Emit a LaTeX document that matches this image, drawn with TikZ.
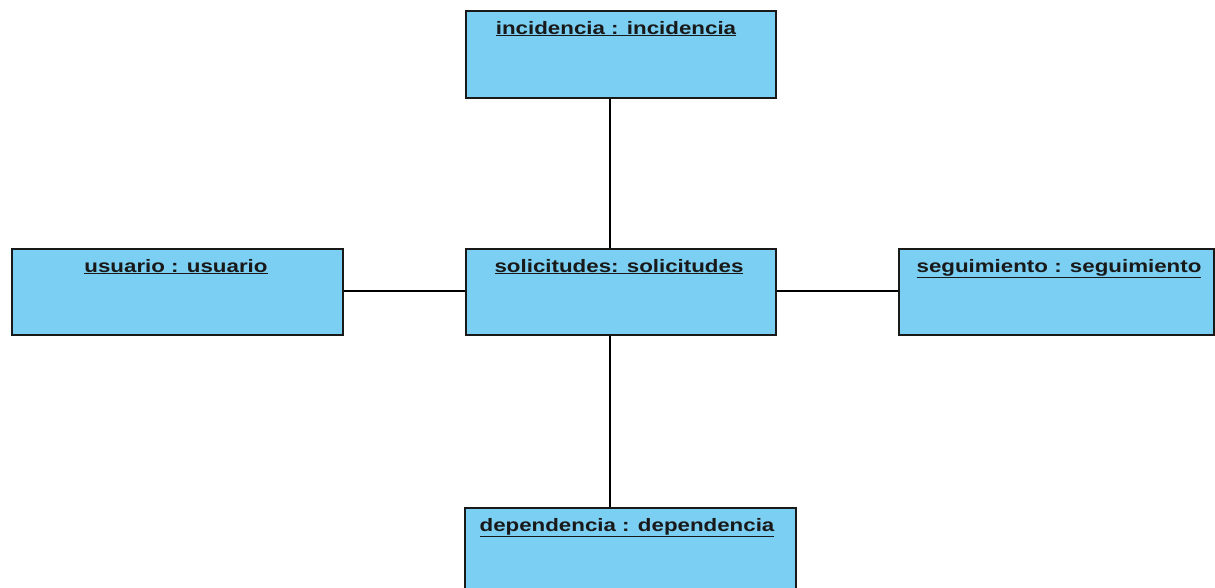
\documentclass[tikz,border=0pt]{standalone}
\usepackage{fontspec}
\setmainfont{Liberation Sans}
\definecolor{objfill}{RGB}{123,207,243}
\definecolor{objline}{RGB}{25,25,25}
\tikzset{
  obj/.style={draw=objline, line width=1.8pt, fill=objfill, rectangle, anchor=north west, inner sep=0pt},
  ttl/.style={anchor=base, font=\fontsize{18}{20}\selectfont\bfseries, xscale=1.24, text=black!90, inner sep=0pt},
  conn/.style={draw=black, line width=1.5pt}
}
\begin{document}
\begin{tikzpicture}[x=1pt,y=-1pt]
\useasboundingbox (0,0) rectangle (1215,587);
\clip (0,0) rectangle (1215,587);
\node[obj, minimum width=310pt, minimum height=87pt] (inc) at (465,10) {};
\node[obj, minimum width=331pt, minimum height=86pt] (usu) at (11,248) {};
\node[obj, minimum width=310pt, minimum height=86pt] (sol) at (465,248) {};
\node[obj, minimum width=315pt, minimum height=86pt] (seg) at (898,248) {};
\node[obj, minimum width=331pt, minimum height=100pt] (dep) at (464,507) {};
\node[ttl] (tinc) at (616,34) {\underline{incidencia : incidencia}};
\node[ttl] (tusu) at (176,272) {\underline{usuario : usuario}};
\node[ttl] (tsol) at (619,272) {\underline{solicitudes: solicitudes}};
\node[ttl] (tseg) at (1059,272) {\underline{seguimiento : seguimiento}};
\node[ttl] (tdep) at (627,531) {\underline{dependencia : dependencia}};
\draw[conn] (inc.south -| 610,0) -- (sol.north -| 610,0);
\draw[conn] (sol.south -| 610,0) -- (dep.north -| 610,0);
\draw[conn] (usu.east |- 0,291) -- (sol.west |- 0,291);
\draw[conn] (sol.east |- 0,291) -- (seg.west |- 0,291);
\end{tikzpicture}
\end{document}
